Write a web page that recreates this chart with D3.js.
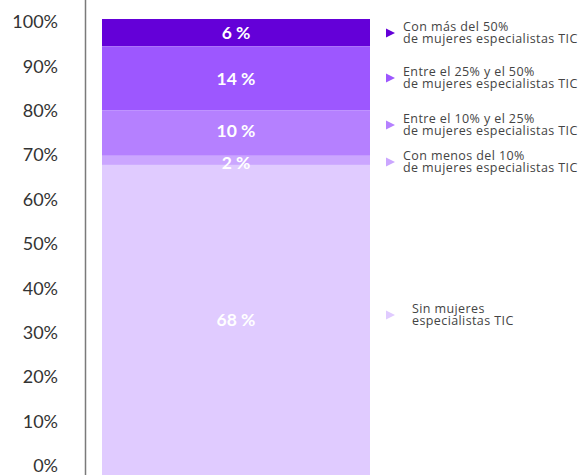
<!DOCTYPE html>
<html>
<head>
<meta charset="utf-8">
<script src="https://cdn.jsdelivr.net/npm/d3@7"></script>
<style>
  body { margin: 0; background: #fff; }
  text { font-family: Lato, "Open Sans", sans-serif; }
</style>
</head>
<body>
<svg id="my-svg"></svg>
<script>
// stacked segments, top to bottom
const categories = ['mas50', '25a50', '10a25', 'menos10', 'sin'];
const values = [6, 14, 10, 2, 68];
const colors = ['#6400d8', '#9d57ff', '#b580ff', '#cba6ff', '#e0cbff'];
const legendLines = [
  ['Con más del 50%', 'de mujeres especialistas TIC'],
  ['Entre el 25% y el 50%', 'de mujeres especialistas TIC'],
  ['Entre el 10% y el 25%', 'de mujeres especialistas TIC'],
  ['Con menos del 10%', 'de mujeres especialistas TIC'],
  ['Sin mujeres', 'especialistas TIC']
];
const tickValues = [0, 10, 20, 30, 40, 50, 60, 70, 80, 90, 100];

const W = 579, H = 475;
let svg = d3.select('#my-svg').attr('width', W).attr('height', H);

// bar scale and label scale (labels sit a bit inside the bar ends)
let y = d3.scaleLinear().domain([0, 100]).range([475, 19]);
let yAxisScale = d3.scaleLinear().domain([0, 100]).range([466, 22]);

// stack from the top down
let oStack = [];
let iTop = 100;
values.forEach((v, i) => {
  oStack.push({ key: categories[i], v, y1: iTop, y0: iTop - v, color: colors[i] });
  iTop -= v;
});

svg.append('line')
  .attr('x1', 85.5).attr('x2', 85.5)
  .attr('y1', 0).attr('y2', H)
  .attr('stroke', '#7a7a7a').attr('stroke-width', 1.5);

let axis = d3.axisLeft(yAxisScale)
  .tickValues(tickValues)
  .tickFormat(d => d + '%')
  .tickSize(0).tickPadding(0);

let gAxis = svg.append('g').attr('transform', 'translate(58,0)').call(axis);
gAxis.select('.domain').remove();
gAxis.selectAll('text')
  .attr('font-size', 18)
  .attr('fill', '#333')
  .style('font-family', 'Lato, sans-serif');

let x0 = 102, x1 = 370;

svg.selectAll('rect.seg')
  .data(oStack)
  .enter().append('rect')
    .attr('class', 'seg')
    .attr('x', x0)
    .attr('width', x1 - x0)
    .attr('y', d => y(d.y1))
    .attr('height', d => y(d.y0) - y(d.y1))
    .attr('fill', d => d.color);

// small nudges so labels sit like the original
const labelShift = { '10a25': -2, 'menos10': 2.5 };

svg.selectAll('text.val')
  .data(oStack)
  .enter().append('text')
    .attr('class', 'val')
    .attr('x', (x0 + x1) / 2)
    .attr('y', d => (y(d.y0) + y(d.y1)) / 2 + (labelShift[d.key] || 0))
    .attr('dy', '0.36em')
    .attr('text-anchor', 'middle')
    .attr('font-size', 17.5)
    .attr('font-weight', 'bold')
    .attr('fill', '#fff')
    .text(d => d.v + ' %');

// legend
const legendY = [33, 78, 125, 162, 315];
const legendTextX = [403, 403, 403, 403, 412];

let gLeg = svg.selectAll('g.leg')
  .data(oStack)
  .enter().append('g')
    .attr('class', 'leg')
    .attr('transform', (d, i) => 'translate(0,' + legendY[i] + ')');

gLeg.append('path')
  .attr('d', 'M386,-4.5 L395,0 L386,4.5 Z')
  .attr('fill', d => d.color);

gLeg.each(function (d, i) {
  let t = d3.select(this).append('text')
    .attr('font-size', 12.5)
    .attr('letter-spacing', 0.4)
    .attr('fill', '#444')
    .style('font-family', '"Open Sans", sans-serif');
  legendLines[i].forEach((s, j) => {
    t.append('tspan')
      .attr('x', legendTextX[i])
      .attr('y', j === 0 ? -2.5 : 9.5)
      .text(s);
  });
});
</script>
</body>
</html>
